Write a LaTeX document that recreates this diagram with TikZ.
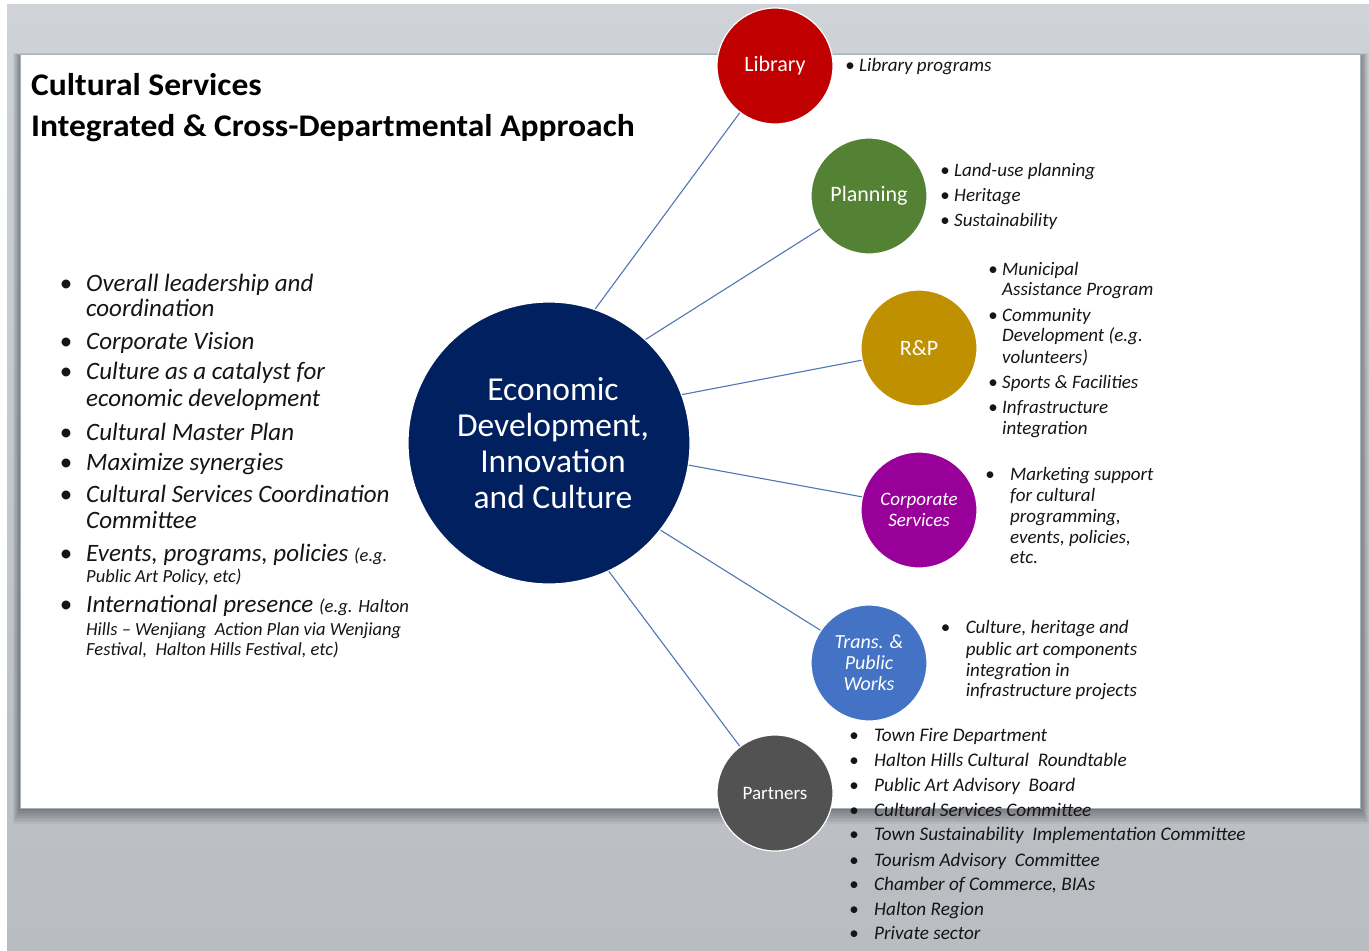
\documentclass[tikz,border=0pt]{standalone}
\usepackage{fontspec}
\setmainfont{Carlito}
\newfontfamily\widefont[FakeStretch=1.065]{Carlito}
\definecolor{bgtop}{HTML}{CFD2D7}
\definecolor{bgbot}{HTML}{B9BCC1}
\definecolor{libred}{HTML}{C00000}
\definecolor{plangreen}{HTML}{548235}
\definecolor{rpgold}{HTML}{BF9000}
\definecolor{corppurple}{HTML}{990099}
\definecolor{transblue}{HTML}{4472C4}
\definecolor{partgray}{HTML}{525252}
\definecolor{navy}{HTML}{002060}
\definecolor{linkblue}{HTML}{5076B8}
\definecolor{txt}{HTML}{151515}
\definecolor{paneledge}{HTML}{A8B2BF}
\begin{document}
\begin{tikzpicture}[x=1pt,y=-1pt,
  bubble/.style={circle, minimum size=116pt, inner sep=0pt, draw=white, line width=1.2pt,
    text=white, font=\fontsize{22}{24}\selectfont, align=center},
  hub/.style={circle, minimum size=282pt, inner sep=0pt, draw=white, line width=1.2pt, fill=navy},
  hubtext/.style={inner sep=0pt, text=white, font=\fontsize{33.5}{36}\selectfont, align=center},
  link/.style={draw=linkblue, line width=1.1pt},
  big/.style={anchor=base west, inner sep=0pt, text=txt, font=\fontsize{25}{28}\selectfont\itshape},
  small/.style={anchor=base west, inner sep=0pt, text=txt, font=\fontsize{18.5}{21}\selectfont\itshape},
  item/.style={anchor=base west, inner sep=0pt, text=txt, font=\fontsize{19}{22}\selectfont\itshape},
  pitem/.style={anchor=base west, inner sep=0pt, text=txt, font=\fontsize{19.2}{22}\selectfont\itshape},
  bigdot/.style={anchor=base, inner sep=0pt, text=txt, font=\fontsize{25}{28}\selectfont},
  dot/.style={anchor=base, inner sep=0pt, text=txt, font=\fontsize{19}{22}\selectfont},
  titletext/.style={anchor=base west, inner sep=0pt, text=black, font=\fontsize{31.5}{34}\widefont\bfseries}
]
\useasboundingbox (0,0) rectangle (1369,951);
% background
\fill[white] (0,0) rectangle (1369,951);
\shade[top color=bgtop, bottom color=bgbot] (7,4) rectangle (1369,951);
% panel shadow
\foreach \i in {1,...,10}{
  \fill[black, opacity=0.04] (20-\i*0.7,54+2-\i*0.3) rectangle (1360+\i*0.9,808+\i*1.6);
}
\fill[white] (20,54) rectangle (1360,808);
\draw[paneledge, line width=0.8pt] (20,54) rectangle (1360,808);

% title
\node[titletext] (t1) at (31,95) {Cultural Services};
\node[titletext] (t2) at (31,136) {Integrated \& Cross-Departmental Approach};

% hub and bubbles
\node[hub] (c) at (549,443) {};
\node[hubtext] (ctext) at (553,443) {Economic\\Development,\\Innovation\\and Culture};
\node[bubble, fill=libred] (lib) at (775,66) {Library};
\node[bubble, fill=plangreen] (plan) at (869,196) {Planning};
\node[bubble, fill=rpgold] (rp) at (919,348) {R\&P};
\node[bubble, fill=corppurple, font=\fontsize{19}{21}\selectfont\itshape] (corp) at (919,510) {Corporate\\Services};
\node[bubble, fill=transblue, font=\fontsize{20}{21}\selectfont\itshape] (trans) at (869,663) {Trans. \&\\Public\\Works};
\node[bubble, fill=partgray, font=\fontsize{19}{21}\selectfont] (part) at (775,793) {Partners};

% connectors
\draw[link] (c.71) -- (lib.233);
\draw[link] (c.47) -- (plan.214);
\draw[link] (c.20) -- (rp.192);
\draw[link] (c.-9) -- (corp.167);
\draw[link] (c.-38) -- (trans.146);
\draw[link] (c.-65) -- (part.127);

% left list
\node[bigdot] (b1) at (66,291.7) {\textbullet};
\node[big] (a1) at (86,291.7) {Overall leadership and};
\node[big] (a1b) at (86,316.7) {coordination};
\node[bigdot] (b2) at (66,349.3) {\textbullet};
\node[big] (a2) at (86,349.3) {Corporate Vision};
\node[bigdot] (b3) at (66,379.3) {\textbullet};
\node[big] (a3) at (86,379.3) {Culture as a catalyst for};
\node[big] (a3b) at (86,406.7) {economic development};
\node[bigdot] (b4) at (66,440) {\textbullet};
\node[big] (a4) at (86,440) {Cultural Master Plan};
\node[bigdot] (b5) at (66,470) {\textbullet};
\node[big] (a5) at (86,470) {Maximize synergies};
\node[bigdot] (b6) at (66,502.3) {\textbullet};
\node[big] (a6) at (86,502.3) {Cultural Services Coordination};
\node[big] (a6b) at (86,528.3) {Committee};
\node[bigdot] (b7) at (66,561.7) {\textbullet};
\node[big] (a7) at (86,561.7) {Events, programs, policies {\fontsize{18.5}{21}\selectfont(e.g.}};
\node[small] (a7b) at (86,582.3) {Public Art Policy, etc)};
\node[bigdot] (b8) at (66,612.3) {\textbullet};
\node[big] (a8) at (86,612.3) {International presence {\fontsize{18.7}{21}\selectfont(e.g. Halton}};
\node[small] (a8b) at (86,635) {Hills -- Wenjiang\ \ Action Plan via Wenjiang};
\node[small] (a8c) at (86,655) {Festival,\ \ Halton Hills Festival, etc)};

% library list
\node[dot] (lbd) at (850,71.7) {\textbullet};
\node[item] (l1) at (859,71.7) {Library programs};
% planning list
\node[dot] (pbd1) at (945,176.7) {\textbullet};
\node[item] (p1) at (954,176.7) {Land-use planning};
\node[dot] (pbd2) at (945,201.7) {\textbullet};
\node[item] (p2) at (954,201.7) {Heritage};
\node[dot] (pbd3) at (945,226.7) {\textbullet};
\node[item] (p3) at (954,226.7) {Sustainability};
% R&P list
\node[dot] (rbd1) at (993,275) {\textbullet};
\node[item] (r1) at (1002,275) {Municipal};
\node[item] (r1b) at (1002,295) {Assistance Program};
\node[dot] (rbd2) at (993,321) {\textbullet};
\node[item] (r2) at (1002,321) {Community};
\node[item] (r2b) at (1002,341.7) {Development (e.g.};
\node[item] (r2c) at (1002,363) {volunteers)};
\node[dot] (rbd3) at (993,388) {\textbullet};
\node[item] (r3) at (1002,388) {Sports \& Facilities};
\node[dot] (rbd4) at (993,413) {\textbullet};
\node[item] (r4) at (1002,413) {Infrastructure};
\node[item] (r4b) at (1002,434) {integration};
% corporate list
\node[dot] (cbd1) at (990,480) {\textbullet};
\node[item] (k1) at (1010,480) {Marketing support};
\node[item] (k2) at (1010,501.7) {for cultural};
\node[item] (k3) at (1010,522) {programming,};
\node[item] (k4) at (1010,543) {events, policies,};
\node[item] (k5) at (1010,563) {etc.};
% trans list
\node[dot] (tbd1) at (945.6,633) {\textbullet};
\node[item] (w1) at (965.6,633) {Culture, heritage and};
\node[item] (w2) at (965.6,655) {public art components};
\node[item] (w3) at (965.6,676.7) {integration in};
\node[item] (w4) at (965.6,696.7) {infrastructure projects};
% partners list
\foreach \y/\t [count=\n] in {741.7/{Town Fire Department}, 766.7/{Halton Hills Cultural\ \ Roundtable}, 791.7/{Public Art Advisory\ \ Board}, 816/{Cultural Services Committee}, 840.7/{Town Sustainability\ \ Implementation Committee}, 866/{Tourism Advisory\ \ Committee}, 890/{Chamber of Commerce, BIAs}, 915/{Halton Region}, 939.3/{Private sector}}{
  \node[dot] (ptb\n) at (854,\y) {\textbullet};
  \node[pitem] (pt\n) at (874,\y) {\t};
}
\end{tikzpicture}
\end{document}
